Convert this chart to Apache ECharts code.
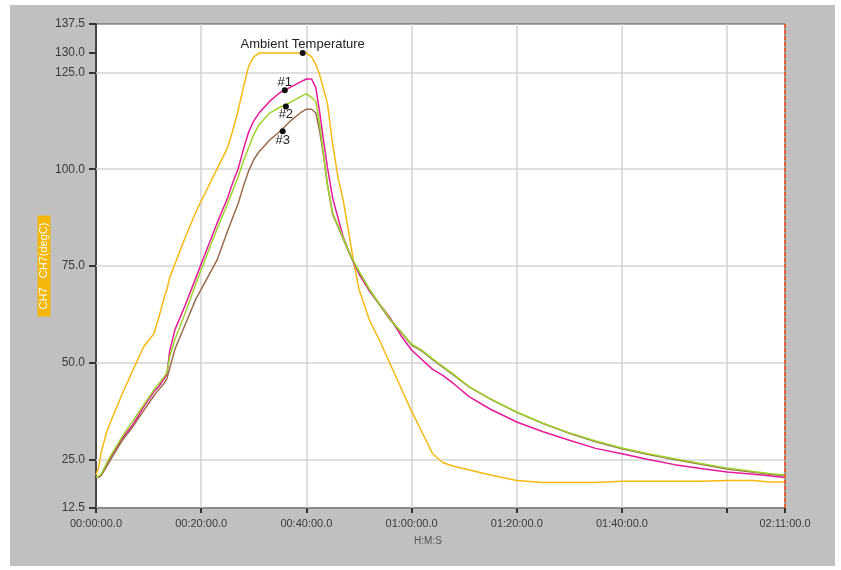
<!DOCTYPE html>
<html>
<head>
<meta charset="utf-8">
<script src="https://cdn.jsdelivr.net/npm/echarts@6/dist/echarts.min.js"></script>
<style>
html,body{margin:0;padding:0;background:#fff;}
#chart{width:841px;height:570px;}
</style>
</head>
<body>
<div id="chart"></div>
<script>
// time in minutes
const times = [0, 0.5, 1, 2, 3, 5, 7, 9, 11, 12, 13, 13.5, 14, 15, 17, 19, 21, 23, 25, 26, 27, 28, 29, 30, 31, 33, 35, 37, 39, 40, 41, 41.8, 42.5, 43.2, 44, 45, 46, 47, 48, 49, 50, 52, 54, 56, 58, 60, 62, 64, 66, 68, 71, 75, 80, 85, 90, 95, 100, 105, 110, 115, 120, 125, 128, 131];
const ambient = [21, 23, 27, 32, 35.5, 42, 48, 54, 57.5, 62, 67, 69, 72, 75.5, 82.5, 89, 94.5, 100, 105.5, 110, 115, 121, 126.5, 129, 130, 130, 130, 130, 130, 130, 129, 127, 124.5, 121, 117, 106.5, 98, 92, 84, 76, 69, 61, 55.5, 49.5, 43.5, 37.5, 32, 26.5, 24.2, 23.3, 22.3, 21, 19.6, 19.1, 19.1, 19.1, 19.4, 19.4, 19.4, 19.4, 19.6, 19.6, 19.2, 19.2];
const probe1 = [20.5, 20.5, 21, 23.5, 26, 30.5, 34, 38.5, 42.5, 44, 46, 47, 53, 58.5, 65, 72, 79, 86, 92.5, 96.5, 100, 105, 109.5, 112.5, 114.5, 117.5, 119.8, 121.2, 122.6, 123.3, 123.3, 121, 115, 108, 100.5, 92.5, 87.5, 82.5, 79, 75.8, 73, 68.5, 65, 61.5, 57, 53.3, 50.8, 48.3, 46.7, 44.6, 41.2, 38, 34.7, 32.2, 30, 27.9, 26.5, 25, 23.7, 22.7, 21.8, 21.2, 20.8, 20.4];
const probe2 = [20.5, 20.7, 21.3, 24, 26.5, 31, 35, 39, 43, 44.7, 46.5, 47.5, 51.5, 56, 63, 70.5, 77.5, 84.5, 91, 94.5, 98, 102, 105.5, 109, 111.5, 114.5, 116, 117.3, 118.8, 119.5, 118.5, 117.5, 112, 104.5, 96, 88.6, 85.5, 82.2, 79, 76.2, 73.7, 69, 65, 61.2, 58, 54.8, 53.2, 51, 49, 47, 43.8, 40.7, 37.3, 34.4, 31.9, 29.8, 28, 26.5, 25.2, 24, 22.8, 21.9, 21.4, 21];
const probe3 = [20.5, 20.5, 21, 23.2, 25.5, 30, 33.5, 37.5, 41.5, 43.2, 44.8, 46, 48.5, 53.5, 60, 66.5, 71.5, 76.5, 84, 87.5, 91, 95.5, 99.5, 102.5, 104.5, 107.5, 109.8, 112.5, 114.7, 115.5, 115.5, 114.5, 110, 104, 96, 88.3, 85.2, 82, 78.8, 76, 73.5, 68.8, 64.8, 61, 57.8, 54.6, 53, 50.8, 48.8, 46.8, 43.7, 40.6, 37.2, 34.3, 31.8, 29.6, 27.8, 26.3, 25, 23.8, 22.6, 21.7, 21.2, 20.8];

const seriesNames = ['Ambient Temperature', '#1', '#2', '#3'];
const markAmbient = [39.3, 130];
const mark1 = [35.9, 120.4];
const mark2 = [36.1, 116.2];
const mark3 = [35.5, 109.8];

const yTicks = [12.5, 25, 50, 75, 100, 125, 130, 137.5];
const xTicks = [0, 20, 40, 60, 80, 100, 120, 131];
const xLabels = [0, 20, 40, 60, 80, 100, 131];
const gridY = [25, 50, 75, 100, 125];
const gridX = [20, 40, 60, 80, 100, 120];
const endTime = 131;
const yName = 'CH7   CH7(degC)';
const xName = 'H:M:S';

function pair(vals) { return times.map((t, i) => [t, vals[i]]); }
function hms(m) {
  const h = Math.floor(m / 60), mm = Math.round(m - h * 60);
  return String(h).padStart(2, '0') + ':' + String(mm).padStart(2, '0') + ':00.0';
}
const FONT = 'Liberation Sans';
const gridLineStyle = { color: '#d3d3d3', width: 1.5, type: 'solid' };

function markPt(coord, name, pos, dist) {
  return {
    symbol: 'circle', symbolSize: 6, silent: true,
    itemStyle: { color: '#111' },
    label: { show: true, position: pos, distance: dist, color: '#222', fontSize: 13, fontFamily: FONT, formatter: name },
    data: [{ coord: coord }]
  };
}

const chart = echarts.init(document.getElementById('chart'), null, { renderer: 'canvas' });
chart.setOption({
  animation: false,
  backgroundColor: '#ffffff',
  graphic: [
    { type: 'rect', z: -10, silent: true, shape: { x: 10, y: 5, width: 825, height: 561 }, style: { fill: '#c0c0c0' } },
    { type: 'text', z: 10, x: 44, y: 266, rotation: Math.PI / 2, silent: true,
      style: { text: yName, fill: '#ffffff', backgroundColor: '#f3b60a', padding: [1, 7], font: '11px ' + FONT, align: 'center', verticalAlign: 'middle' } },
    { type: 'text', z: 10, x: 428, y: 541, silent: true,
      style: { text: xName, fill: '#555', font: '10px ' + FONT, align: 'center', verticalAlign: 'middle' } }
  ],
  grid: { left: 96, top: 24, right: 56, bottom: 62, show: true, backgroundColor: '#ffffff', borderColor: '#555', borderWidth: 1 },
  xAxis: {
    type: 'value', min: 0, max: endTime,
    axisLine: { show: true, onZero: false, lineStyle: { color: '#8c8c8c', width: 2 } },
    axisTick: { show: true, customValues: xTicks, length: 5, lineStyle: { color: '#333', width: 2 } },
    axisLabel: { customValues: xLabels, formatter: v => hms(v), color: '#3a3a3a', fontSize: 11, fontFamily: FONT, margin: 10 },
    splitLine: { show: false }
  },
  yAxis: {
    type: 'value', min: 12.5, max: 137.5,
    axisLine: { show: true, onZero: false, lineStyle: { color: '#444', width: 2 } },
    axisTick: { show: true, customValues: yTicks, length: 7, lineStyle: { color: '#333', width: 2 } },
    axisLabel: { customValues: yTicks, formatter: v => v.toFixed(1), color: '#3a3a3a', fontSize: 12, fontFamily: FONT, margin: 11 },
    splitLine: { show: false }
  },
  series: [
    {
      name: seriesNames[0], type: 'line', data: pair(ambient), showSymbol: false, z: 3,
      lineStyle: { color: '#f7b90f', width: 1.5 }, itemStyle: { color: '#f7b90f' },
      markPoint: markPt(markAmbient, seriesNames[0], 'top', -1),
      markLine: {
        silent: true, symbol: ['none', 'none'], z: 1, label: { show: false },
        lineStyle: gridLineStyle,
        data: gridY.map(v => ({ yAxis: v })).concat(gridX.map(v => ({ xAxis: v })))
      }
    },
    {
      name: seriesNames[1], type: 'line', data: pair(probe1), showSymbol: false, z: 3,
      lineStyle: { color: '#e6189a', width: 1.5 }, itemStyle: { color: '#e6189a' },
      markPoint: markPt(mark1, seriesNames[1], 'top', -2)
    },
    {
      name: seriesNames[3], type: 'line', data: pair(probe3), showSymbol: false, z: 3,
      lineStyle: { color: '#9b6b4b', width: 1.5 }, itemStyle: { color: '#9b6b4b' },
      markPoint: markPt(mark3, seriesNames[3], 'bottom', -0.5)
    },
    {
      name: seriesNames[2], type: 'line', data: pair(probe2), showSymbol: false, z: 3,
      lineStyle: { color: '#9dd42c', width: 1.5 }, itemStyle: { color: '#9dd42c' },
      markPoint: markPt(mark2, seriesNames[2], 'bottom', -1.5),
      markLine: {
        silent: true, symbol: ['none', 'none'], z: 6, label: { show: false },
        lineStyle: { color: '#e8602f', width: 2, type: [4, 2] },
        data: [{ xAxis: endTime }]
      }
    }
  ]
});
</script>
</body>
</html>
